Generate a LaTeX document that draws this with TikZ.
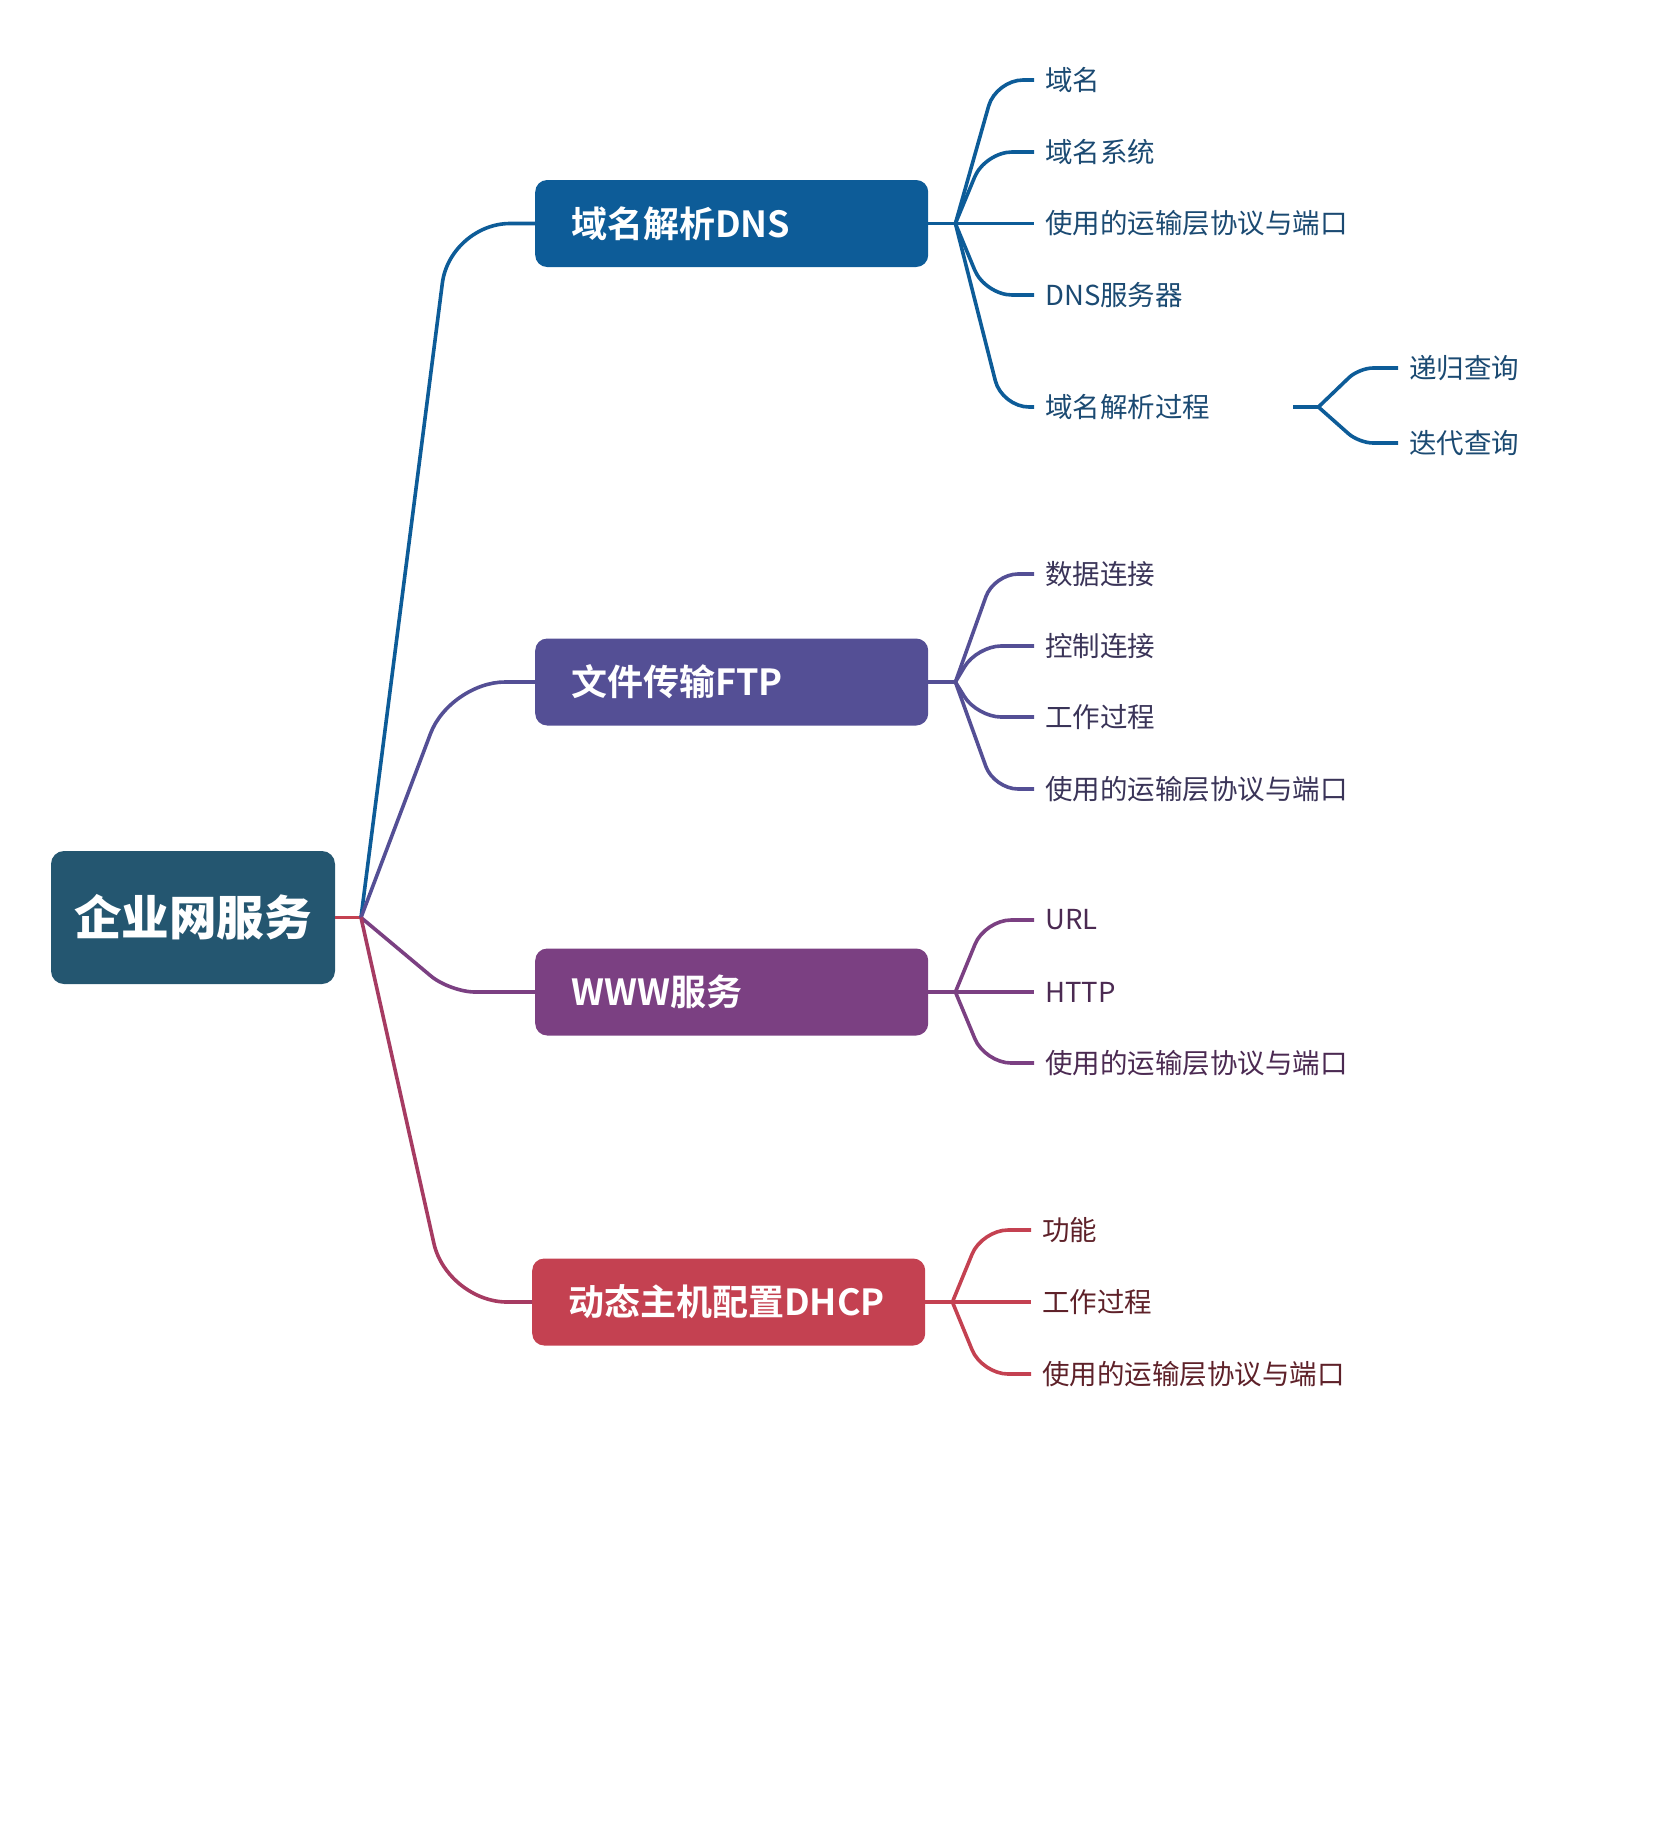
\documentclass[tikz,border=0pt]{standalone}
\usepackage{fontspec}
\usepackage{xcolor}
\setmainfont{Noto Sans CJK SC}[BoldFont={Noto Sans CJK SC Bold}]
\newfontfamily\rootfont{Noto Sans CJK SC Black}
\definecolor{rootblue}{HTML}{245670}
\definecolor{dnsblue}{HTML}{0D5C98}
\definecolor{ftppurple}{HTML}{544F95}
\definecolor{wwwpurple}{HTML}{7B4082}
\definecolor{dhcpred}{HTML}{C44151}
\definecolor{dhcpline}{HTML}{A63B62}
\definecolor{dnstext}{HTML}{1B4A72}
\definecolor{ftptext}{HTML}{3A3458}
\definecolor{wwwtext}{HTML}{4B2A52}
\definecolor{dhcptext}{HTML}{5E2129}

\begin{document}
\begin{tikzpicture}[x=1pt,y=-1pt,
  rootbox/.style={rectangle,rounded corners=13pt,fill=rootblue,text=white,
    minimum width=284pt,minimum height=133pt,
    font=\rootfont\fontsize{47.6}{56}\selectfont},
  topic/.style={rectangle,rounded corners=12pt,anchor=west,text=white,
    minimum height=87pt,text width=321pt,inner xsep=36pt,align=left,
    font=\bfseries\fontsize{36}{42}\selectfont},
  leaf/.style={anchor=west,inner xsep=11pt,inner ysep=0pt,
    font=\fontsize{27.5}{33}\selectfont},
  branch/.style={line width=3.6pt}]
  % Page
  \useasboundingbox (0,0) rectangle (1660,1834);

  % Root
  \node[rootbox] (root) at (193,917.5) {企业网服务};
  \coordinate (jn) at (361,917.5);
  \draw[branch,dhcpred] (root.east) -- (jn);

  % Main topics
  \node[topic,fill=dnsblue] (dns) at (535,223.5) {域名解析DNS};
  \node[topic,fill=ftppurple] (ftp) at (535,682) {文件传输FTP};
  \node[topic,fill=wwwpurple] (www) at (535,992) {WWW服务};
  \node[topic,fill=dhcpred] (dhcp) at (532,1302) {动态主机配置DHCP};

  % Main connectors
  \foreach \n/\c/\r in {dns/dnsblue/60, ftp/ftppurple/55, www/wwwpurple/25, dhcp/dhcpline/60}
    \draw[branch,\c,rounded corners=\r pt] (jn) -- ([xshift=-85pt]\n.west) -- (\n.west);

  % DNS leaves
  \coordinate (dnsj) at ([xshift=27pt]dns.east);
  \draw[branch,dnsblue] (dns.east) -- (dnsj);
  \foreach \i/\y/\s/\t in {1/80/38/域名, 2/152/49/域名系统, 3/223.5/40/使用的运输层协议与端口,
      4/295/49/DNS服务器, 5/407/32/域名解析过程}{
    \node[leaf,text=dnstext] (dns\i) at (1034,\y) {\t};
    \draw[branch,dnsblue,rounded corners=27pt] (dnsj) -- ([xshift=-\s pt]dns\i.west) -- (dns\i.west);
  }

  % Resolution process
  \coordinate (procs) at ([xshift=72pt]dns5.east);
  \coordinate (procj) at ([xshift=25pt]procs);
  \draw[branch,dnsblue] (procs) -- (procj);
  \foreach \i/\y/\t in {1/368/递归查询, 2/443/迭代查询}{
    \node[leaf,text=dnstext] (proc\i) at (1398,\y) {\t};
    \draw[branch,dnsblue,rounded corners=14pt] (procj) -- ([xshift=-39pt]proc\i.west) -- (proc\i.west);
  }

  % FTP leaves
  \coordinate (ftpj) at ([xshift=27pt]ftp.east);
  \draw[branch,ftppurple] (ftp.east) -- (ftpj);
  \foreach \i/\y/\s/\t in {1/574/40/数据连接, 2/646/57/控制连接, 3/717/57/工作过程,
      4/789/40/使用的运输层协议与端口}{
    \node[leaf,text=ftptext] (ftp\i) at (1034,\y) {\t};
    \draw[branch,ftppurple,rounded corners=24pt] (ftpj) -- ([xshift=-\s pt]ftp\i.west) -- (ftp\i.west);
  }

  % WWW leaves
  \coordinate (wwwj) at ([xshift=27pt]www.east);
  \draw[branch,wwwpurple] (www.east) -- (wwwj);
  \foreach \i/\y/\s/\t in {1/920/49/URL, 2/992/40/HTTP, 3/1063/49/使用的运输层协议与端口}{
    \node[leaf,text=wwwtext] (www\i) at (1034,\y) {\t};
    \draw[branch,wwwpurple,rounded corners=26pt] (wwwj) -- ([xshift=-\s pt]www\i.west) -- (www\i.west);
  }

  % DHCP leaves
  \coordinate (dhcpj) at ([xshift=27pt]dhcp.east);
  \draw[branch,dhcpred] (dhcp.east) -- (dhcpj);
  \foreach \i/\y/\s/\t in {1/1230/49/功能, 2/1302/40/工作过程, 3/1374/49/使用的运输层协议与端口}{
    \node[leaf,text=dhcptext] (dhcp\i) at (1031,\y) {\t};
    \draw[branch,dhcpred,rounded corners=26pt] (dhcpj) -- ([xshift=-\s pt]dhcp\i.west) -- (dhcp\i.west);
  }
\end{tikzpicture}
\end{document}
